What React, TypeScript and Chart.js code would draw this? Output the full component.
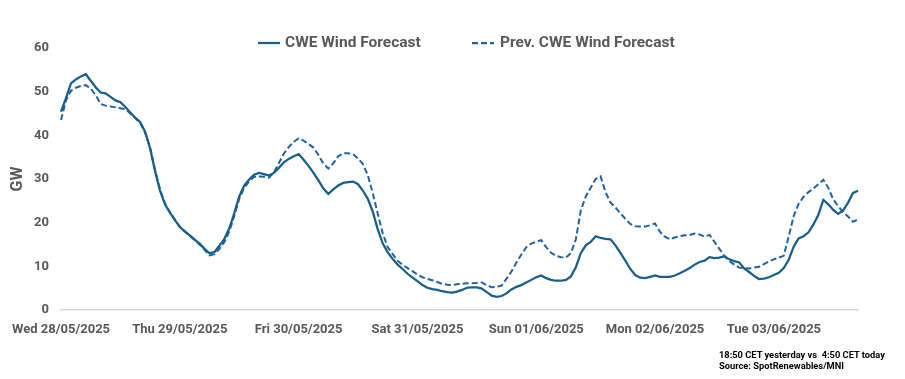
import React, { useEffect, useRef } from 'react';
import { Chart, registerables } from 'chart.js';

Chart.register(...registerables);

// Day labels, one every 24 hourly points
const dayLabels = [
  'Wed 28/05/2025',
  'Thu 29/05/2025',
  'Fri 30/05/2025',
  'Sat 31/05/2025',
  'Sun 01/06/2025',
  'Mon 02/06/2025',
  'Tue 03/06/2025',
];

// CWE Wind Forecast (GW), hourly from Wed 28/05/2025 00:00
const cweForecast = [
  45.4, 48.5, 51.9, 52.8, 53.5, 54.0, 52.5, 51.0, 49.8, 49.6,
  48.8, 48.0, 47.6, 46.5, 45.2, 44.0, 43.0, 40.8, 37.0, 31.8,
  27.3, 24.2, 22.3, 20.6, 19.0, 18.0, 17.1, 16.1, 15.2, 14.0,
  13.0, 13.3, 14.7, 16.3, 18.7, 22.2, 26.0, 28.5, 29.9, 31.0,
  31.4, 31.1, 30.8, 31.4, 32.5, 33.8, 34.6, 35.2, 35.7, 34.4,
  33.0, 31.4, 29.7, 27.8, 26.6, 27.6, 28.5, 29.1, 29.3, 29.4,
  28.8, 27.3, 25.4, 22.4, 18.4, 15.2, 13.2, 11.7, 10.4, 9.4,
  8.3, 7.4, 6.6, 5.7, 5.1, 4.8, 4.6, 4.3, 4.1, 4.0,
  4.2, 4.6, 5.1, 5.2, 5.2, 4.9, 4.1, 3.3, 3.0, 3.2,
  3.8, 4.7, 5.3, 5.7, 6.3, 6.9, 7.5, 7.9, 7.3, 6.9,
  6.7, 6.7, 6.9, 7.7, 9.8, 13.0, 14.8, 15.6, 16.9, 16.5,
  16.3, 16.2, 14.8, 13.1, 11.3, 9.4, 8.0, 7.4, 7.3, 7.6,
  7.9, 7.6, 7.6, 7.6, 7.9, 8.4, 9.0, 9.6, 10.4, 11.0,
  11.3, 12.1, 11.9, 12.0, 12.3, 11.6, 11.2, 10.9, 9.5, 8.7,
  7.8, 7.1, 7.2, 7.5, 8.0, 8.5, 9.6, 11.5, 14.5, 16.4,
  16.9, 17.8, 19.6, 21.8, 25.2, 24.2, 22.9, 22.0, 22.8, 24.6,
  26.8, 27.3,
];

// Prev. CWE Wind Forecast (GW)
const prevForecast = [
  43.5, 48.0, 50.2, 50.9, 51.3, 51.5, 50.7, 49.2, 47.2, 46.8,
  46.6, 46.4, 46.2, 46.0, 45.0, 44.0, 42.8, 40.5, 37.2, 32.0,
  27.6, 24.4, 22.4, 20.7, 19.1, 18.0, 17.0, 16.0, 15.0, 13.8,
  12.5, 12.8, 14.0, 15.6, 18.0, 21.6, 25.5, 28.0, 29.5, 30.5,
  30.6, 30.5, 30.3, 31.5, 33.6, 35.8, 37.3, 38.5, 39.3, 38.8,
  38.0, 37.2, 35.5, 33.5, 32.4, 33.6, 35.2, 35.9, 35.9, 35.7,
  34.7, 33.4, 30.8, 26.6, 22.0, 17.5, 14.4, 12.8, 11.3, 10.3,
  9.6, 8.9, 8.1, 7.5, 7.1, 6.8, 6.4, 6.0, 5.8, 5.7,
  5.9, 6.0, 6.1, 6.1, 6.2, 6.3, 5.7, 5.2, 5.3, 5.6,
  7.2, 8.8, 10.9, 12.7, 14.4, 15.2, 15.6, 16.0, 14.4, 13.1,
  12.4, 12.1, 12.0, 13.0, 16.2, 22.8, 26.0, 28.0, 30.0, 30.6,
  27.0, 24.6, 23.5, 22.1, 20.9, 19.7, 19.2, 19.1, 19.1, 19.4,
  19.8, 17.9, 16.8, 16.2, 16.6, 16.9, 17.1, 17.2, 17.5, 17.3,
  16.8, 17.2, 15.6, 14.0, 12.4, 11.2, 10.4, 9.7, 9.6, 9.5,
  9.7, 9.9, 10.5, 11.1, 11.6, 12.0, 12.4, 16.8, 21.5, 24.3,
  25.9, 27.0, 27.8, 28.8, 29.8, 28.0, 25.3, 23.8, 22.4, 21.4,
  20.2, 20.8,
];

const seriesNames = ['CWE Wind Forecast', 'Prev. CWE Wind Forecast'];
const hourLabels = cweForecast.map((_, i) => String(i));

const SOLID = '#1B5E87';
const DASHED = '#23639A';
const GRAY = '#595959';
const FONT = 'Roboto, "Liberation Sans", sans-serif';

export default function App() {
  const ref = useRef<HTMLCanvasElement>(null);

  useEffect(() => {
    if (!ref.current) return;

    const legendPlugin = {
      id: 'customLegend',
      afterDraw(chart: any) {
        const ctx = chart.ctx;
        const y = 43;
        ctx.save();
        ctx.font = `bold 15.5px ${FONT}`;
        ctx.fillStyle = GRAY;
        ctx.textBaseline = 'middle';
        ctx.textAlign = 'left';
        ctx.lineWidth = 2.25;
        // solid
        ctx.strokeStyle = SOLID;
        ctx.setLineDash([]);
        ctx.beginPath();
        ctx.moveTo(258, y);
        ctx.lineTo(280, y);
        ctx.stroke();
        ctx.fillText(seriesNames[0], 285, y);
        // dashed
        ctx.strokeStyle = DASHED;
        ctx.setLineDash([6, 3]);
        ctx.beginPath();
        ctx.moveTo(472, y);
        ctx.lineTo(494, y);
        ctx.stroke();
        ctx.setLineDash([]);
        ctx.fillText(seriesNames[1], 500, y);
        ctx.restore();
      },
    };

    const chart = new Chart(ref.current, {
      type: 'line',
      data: {
        labels: hourLabels,
        datasets: [
          {
            label: seriesNames[0],
            data: cweForecast,
            borderColor: SOLID,
            borderWidth: 2.25,
            pointRadius: 0,
            tension: 0,
            fill: false,
          },
          {
            label: seriesNames[1],
            data: prevForecast,
            borderColor: DASHED,
            borderWidth: 2,
            borderDash: [6, 3],
            pointRadius: 0,
            tension: 0,
            fill: false,
          },
        ],
      },
      options: {
        animation: false,
        responsive: false,
        maintainAspectRatio: false,
        layout: { padding: { top: 48, right: 47, left: 0, bottom: 0 } },
        plugins: {
          legend: { display: false },
          tooltip: { enabled: false },
        },
        scales: {
          x: {
            type: 'category',
            offset: false,
            grid: { display: false, drawTicks: false },
            border: { display: true, color: '#D9D9D9', width: 1.5 },
            ticks: {
              autoSkip: false,
              maxRotation: 0,
              minRotation: 0,
              padding: 12,
              color: GRAY,
              font: { family: FONT, size: 13, weight: 'bold' },
              callback: (_v: any, idx: number) =>
                idx % 24 === 0 ? dayLabels[idx / 24] ?? '' : '',
            },
            afterFit: (scale: any) => {
              scale.height = 69;
            },
          },
          y: {
            min: 0,
            max: 60,
            grid: { display: false, drawTicks: false },
            border: { display: false },
            ticks: {
              stepSize: 10,
              padding: 12,
              color: GRAY,
              font: { family: FONT, size: 13, weight: 'bold' },
            },
            title: {
              display: true,
              text: 'GW',
              color: GRAY,
              font: { family: FONT, size: 16, weight: 'bold' },
              padding: { top: 1, bottom: 0 },
            },
            afterFit: (scale: any) => {
              scale.width = 54;
            },
          },
        },
      },
      plugins: [legendPlugin],
    });

    return () => chart.destroy();
  }, []);

  return (
    <div
      style={{
        position: 'fixed',
        left: 0,
        top: 0,
        width: 905,
        height: 379,
        background: '#fff',
        overflow: 'hidden',
      }}
    >
      <canvas ref={ref} width={905} height={379} style={{ display: 'block' }} />
      <div
        style={{
          position: 'absolute',
          left: 719,
          top: 349,
          fontFamily: FONT,
          fontWeight: 'bold',
          fontSize: 9.3,
          lineHeight: '11px',
          color: '#000',
          whiteSpace: 'pre',
        }}
      >
        {'18:50 CET yesterday vs  4:50 CET today\nSource: SpotRenewables/MNI'}
      </div>
    </div>
  );
}
